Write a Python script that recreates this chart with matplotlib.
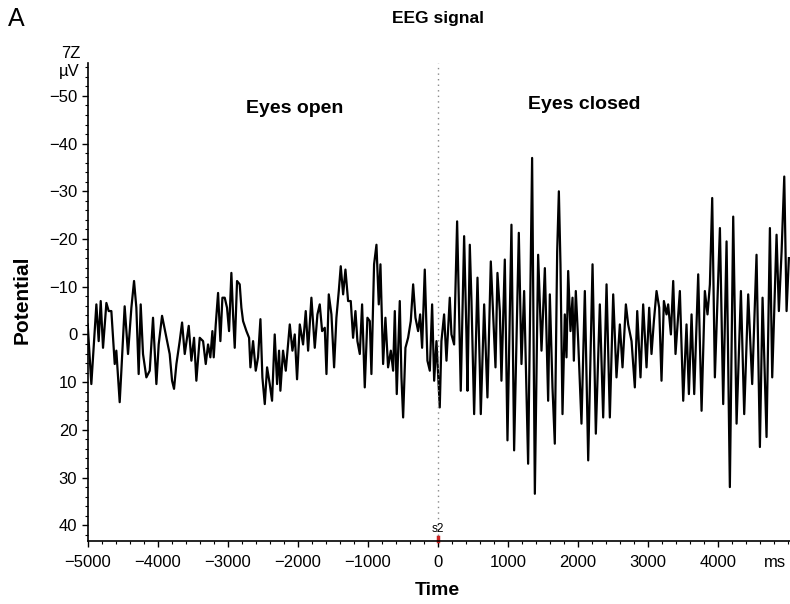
import numpy as np
import matplotlib
matplotlib.use("Agg")
import matplotlib.pyplot as plt
from matplotlib.ticker import MultipleLocator

plt.rcParams['font.family'] = ['Liberation Sans', 'DejaVu Sans']

# EEG trace (time in ms, potential in uV, negative is up)
time_ms = [-5000, -4948, -4876, -4843, -4814, -4781, -4733, -4700, -4662, -4614,
           -4591, -4543, -4519, -4472, -4424, -4376, -4338, -4305, -4272, -4243,
           -4210, -4162, -4114, -4067, -4019, -3986, -3938, -3876, -3829, -3795,
           -3767, -3733, -3686, -3652, -3614, -3557, -3519, -3481, -3448, -3400,
           -3352, -3314, -3281, -3248, -3219, -3200, -3171, -3138, -3105, -3076,
           -3043, -3010, -2981, -2948, -2924, -2900, -2867, -2829, -2805, -2781,
           -2733, -2695, -2676, -2638, -2600, -2567, -2533, -2505, -2471, -2438,
           -2400, -2367, -2329, -2295, -2267, -2248, -2210, -2171, -2138, -2114,
           -2076, -2043, -2010, -1971, -1924, -1886, -1852, -1805, -1757, -1719,
           -1686, -1652, -1614, -1590, -1557, -1519, -1481, -1448, -1414, -1386,
           -1352, -1319, -1281, -1243, -1210, -1176, -1148, -1114, -1081, -1043,
           -1005, -971, -948, -910, -876, -843, -819, -781, -748, -710,
           -671, -638, -614, -586, -543, -519, -495, -462, -424, -386,
           -352, -319, -281, -252, -224, -186, -148, -114, -81, -52,
           -19, 28, 52, 90, 124, 171, 195, 233, 276, 300,
           328, 376, 409, 424, 457, 481, 519, 567, 600, 614,
           662, 709, 757, 790, 824, 852, 886, 909, 957, 995,
           1052, 1090, 1157, 1195, 1233, 1290, 1347, 1386, 1433, 1481,
           1529, 1576, 1600, 1638, 1671, 1705, 1729, 1752, 1781, 1814,
           1838, 1862, 1895, 1924, 1943, 1971, 2005, 2052, 2100, 2148,
           2210, 2257, 2314, 2362, 2410, 2457, 2505, 2552, 2600, 2638,
           2686, 2719, 2767, 2814, 2848, 2895, 2933, 2981, 3019, 3052,
           3086, 3124, 3162, 3195, 3229, 3267, 3290, 3329, 3362, 3395,
           3457, 3505, 3552, 3586, 3624, 3662, 3719, 3767, 3814, 3852,
           3886, 3919, 3957, 4029, 4076, 4124, 4171, 4219, 4267, 4329,
           4376, 4433, 4490, 4552, 4600, 4638, 4695, 4743, 4776, 4838,
           4871, 4910, 4948, 4981, 5014]
potential_uv = [-2.1, 10.4, -6.3, 1.4, -7.0, 2.8, -6.6, -4.9, -4.9, 6.2,
                3.4, 14.2, 7.6, -5.9, 4.1, -5.6, -11.2, -5.6, 8.3, -6.3,
                4.1, 9.0, 7.6, -3.5, 10.4, 2.1, -3.9, 0.7, 4.1, 9.7,
                11.4, 6.2, 1.4, -2.5, 4.1, -1.8, 5.5, 0.7, 9.7, 0.7,
                1.4, 6.2, 2.1, 4.8, -0.7, 4.8, -2.1, -8.7, 1.4, -7.7,
                -7.7, -5.6, -0.7, -12.9, -4.2, 2.8, -11.2, -10.5, -5.6, -2.8,
                -0.7, 0.7, 6.9, 1.4, 7.6, 4.8, -3.2, 9.0, 14.6, 6.9,
                10.4, 13.9, 0.0, 10.4, 3.4, 11.8, 3.4, 7.6, 2.1, -2.1,
                3.4, 0.0, 9.4, -2.1, 2.1, -4.9, 3.4, -7.7, 2.8, -4.2,
                -6.3, -0.7, -1.4, 8.3, -8.4, -4.2, 6.9, -3.5, -9.1, -14.3,
                -8.4, -13.6, -7.0, -7.0, 0.7, -4.9, 1.4, 4.1, -6.3, 11.1,
                -3.5, -2.8, 8.3, -14.7, -18.8, -6.3, -14.7, 6.2, -3.5, 6.9,
                3.4, 7.6, -4.9, 12.5, -7.0, 9.0, 17.4, 2.8, 0.7, -2.8,
                -10.5, -3.5, -0.7, -4.2, 2.8, -13.6, 5.5, 7.6, -6.3, 9.7,
                1.4, 15.3, 1.4, -4.2, 5.5, -7.7, 0.0, 2.1, -23.7, -7.0,
                11.8, -20.6, 0.0, 11.8, -18.8, -7.0, 16.7, -11.9, 6.9, 16.7,
                -6.3, 13.2, -15.3, -4.2, 6.9, -12.9, -4.9, 9.7, -15.7, 22.2,
                -23.0, 24.3, -21.3, 6.2, -9.1, 27.1, -37.0, 33.4, -16.7, 3.4,
                -13.9, 13.9, -8.4, 11.1, 22.9, -17.4, -30.0, -14.7, 16.7, -4.2,
                4.8, -13.3, -0.7, -7.7, 5.5, -9.1, 1.4, 18.7, -9.1, 26.4,
                -14.7, 20.8, -6.3, 17.4, -10.5, 17.4, -8.4, 9.0, -2.1, 6.9,
                -6.3, -2.1, 1.4, 11.1, -4.9, 9.0, -6.3, 6.9, -5.6, 4.1,
                -2.8, -9.1, -5.6, 9.7, -7.0, -4.2, -6.3, 0.0, -11.2, 4.1,
                -9.1, 13.9, -2.1, 12.5, -4.2, 12.5, -12.6, 16.0, -9.1, -4.2,
                -10.5, -28.6, 9.0, -22.3, 14.6, -19.5, 32.0, -24.7, 18.7, -9.1,
                16.7, -8.4, 10.4, -16.7, 23.6, -7.7, 21.5, -22.3, 9.0, -20.9,
                -4.9, -17.4, -33.1, -4.9, -16.0]

xticks = [-5000, -4000, -3000, -2000, -1000, 0, 1000, 2000, 3000, 4000]
yticks = [-50, -40, -30, -20, -10, 0, 10, 20, 30, 40]

fig = plt.figure(figsize=(7.9, 6.04), dpi=100)
ax = fig.add_axes([0.111, 0.1043, 0.889, 0.7914])

ax.plot(time_ms, potential_uv, color='black', lw=1.6)

# marker at time zero
ax.axvline(0, color='#888888', lw=1, ls=(0, (1, 3)))
ax.plot([0, 0], [42.4, 43.3], color='#cc2222', lw=2.5, clip_on=False)
ax.text(0, 40.8, 's2', ha='center', va='center', fontsize=8.5)

ax.set_xlim(-5000, 5030)
ax.set_ylim(43.3, -56.9)

ax.set_xticks(xticks)
ax.set_xticklabels([str(x).replace('-', '\u2212') for x in xticks])
ax.set_yticks(yticks)
ax.set_yticklabels([str(y).replace('-', '\u2212') for y in yticks])
ax.xaxis.set_minor_locator(MultipleLocator(200))
ax.yaxis.set_minor_locator(MultipleLocator(2))
ax.tick_params(which='major', length=4, width=1, labelsize=12, direction='out')
ax.tick_params(axis='x', which='major', pad=6)
ax.tick_params(which='minor', length=2, width=0.8, direction='out')

for s in ['top', 'right']:
    ax.spines[s].set_visible(False)
ax.spines['left'].set_linewidth(1.2)
ax.spines['bottom'].set_linewidth(1.2)

ax.text(4814, 47.8, 'ms', ha='center', va='center', fontsize=12, clip_on=False)

ax.text(-2043, -47.3, 'Eyes open', ha='center', va='center', fontsize=14, fontweight='bold')
ax.text(2086, -48.1, 'Eyes closed', ha='center', va='center', fontsize=14, fontweight='bold')

fig.text(0.1013, 0.9106, '7Z', ha='right', va='center', fontsize=12)
fig.text(0.1013, 0.8808, '\u00b5V', ha='right', va='center', fontsize=12)

fig.text(0.554, 0.969, 'EEG signal', ha='center', va='center', fontsize=12.5, fontweight='bold')
fig.text(0.010, 0.969, 'A', ha='left', va='center', fontsize=18)
fig.text(0.554, 0.023, 'Time', ha='center', va='center', fontsize=14, fontweight='bold')
fig.text(0.028, 0.503, 'Potential', ha='center', va='center', rotation=90,
         fontsize=15, fontweight='bold')

plt.savefig('out.png', dpi=100)
